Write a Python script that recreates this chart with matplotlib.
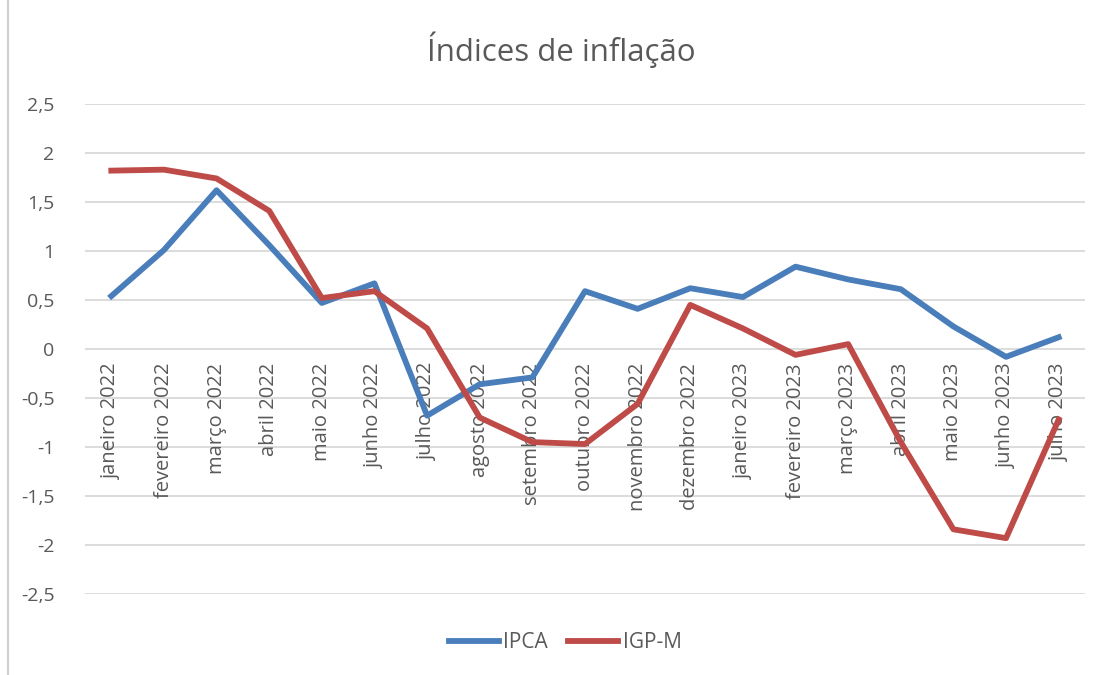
import matplotlib.pyplot as plt
import matplotlib.transforms as mtransforms
from matplotlib.lines import Line2D

plt.rcParams['font.family'] = ['Open Sans', 'DejaVu Sans']

meses = ['janeiro 2022', 'fevereiro 2022', 'março 2022', 'abril 2022',
         'maio 2022', 'junho 2022', 'julho 2022', 'agosto 2022',
         'setembro 2022', 'outubro 2022', 'novembro 2022', 'dezembro 2022',
         'janeiro 2023', 'fevereiro 2023', 'março 2023', 'abril 2023',
         'maio 2023', 'junho 2023', 'julho 2023']
ipca = [0.54, 1.01, 1.62, 1.06, 0.47, 0.67, -0.68, -0.36, -0.29, 0.59,
        0.41, 0.62, 0.53, 0.84, 0.71, 0.61, 0.23, -0.08, 0.12]
igpm = [1.82, 1.83, 1.74, 1.41, 0.52, 0.59, 0.21, -0.70, -0.95, -0.97,
        -0.56, 0.45, 0.21, -0.06, 0.05, -0.95, -1.84, -1.93, -0.72]
yticks = [2.5, 2, 1.5, 1, 0.5, 0, -0.5, -1, -1.5, -2, -2.5]

cinza = '#595959'
azul = '#4a7ebb'
vermelho = '#be4b48'

fig = plt.figure(figsize=(11.1, 6.75), dpi=100)
ax = fig.add_axes([85 / 1110, 1 - 594 / 675, 1000 / 1110, 490 / 675])

x = list(range(len(meses)))
ax.plot(x, ipca, color=azul, lw=4.2, solid_joinstyle='round', zorder=3)
ax.plot(x, igpm, color=vermelho, lw=4.2, solid_joinstyle='round', zorder=3)

ax.set_xlim(-0.5, len(meses) - 0.5)
ax.set_ylim(-2.5, 2.5)
ax.set_yticks(yticks)
ax.set_yticklabels([('%g' % v).replace('.', ',') for v in yticks],
                   color=cinza, fontsize=14)
ax.tick_params(axis='y', length=0, pad=22)
ax.set_xticks([])
ax.grid(axis='y', color='#d9d9d9', lw=1.3)
ax.set_axisbelow(True)
for s in ax.spines.values():
    s.set_visible(False)

# rótulos das categorias junto ao eixo zero
off = mtransforms.offset_copy(ax.transData, fig=fig, x=0, y=-14, units='dots')
for i, m in enumerate(meses):
    ax.text(i, 0, m, rotation=90, ha='center', va='top', color=cinza,
            fontsize=14.5, transform=off, zorder=2)

fig.text(0.506, 1 - 50 / 675, 'Índices de inflação', ha='center', va='center',
         color=cinza, fontsize=22.5)

handles = [Line2D([], [], color=azul, lw=4.2), Line2D([], [], color=vermelho, lw=4.2)]
fig.legend(handles, ['IPCA', 'IGP-M'], loc='center', bbox_to_anchor=(0.509, 1 - 643 / 675),
           ncol=2, frameon=False, fontsize=15, labelcolor=cinza,
           handlelength=2.4, handletextpad=0.2, columnspacing=1.0)

fig.add_artist(Line2D([8 / 1110, 8 / 1110], [0, 1], color='#d0d0d0', lw=1.5))

fig.savefig('out.png', dpi=100)
